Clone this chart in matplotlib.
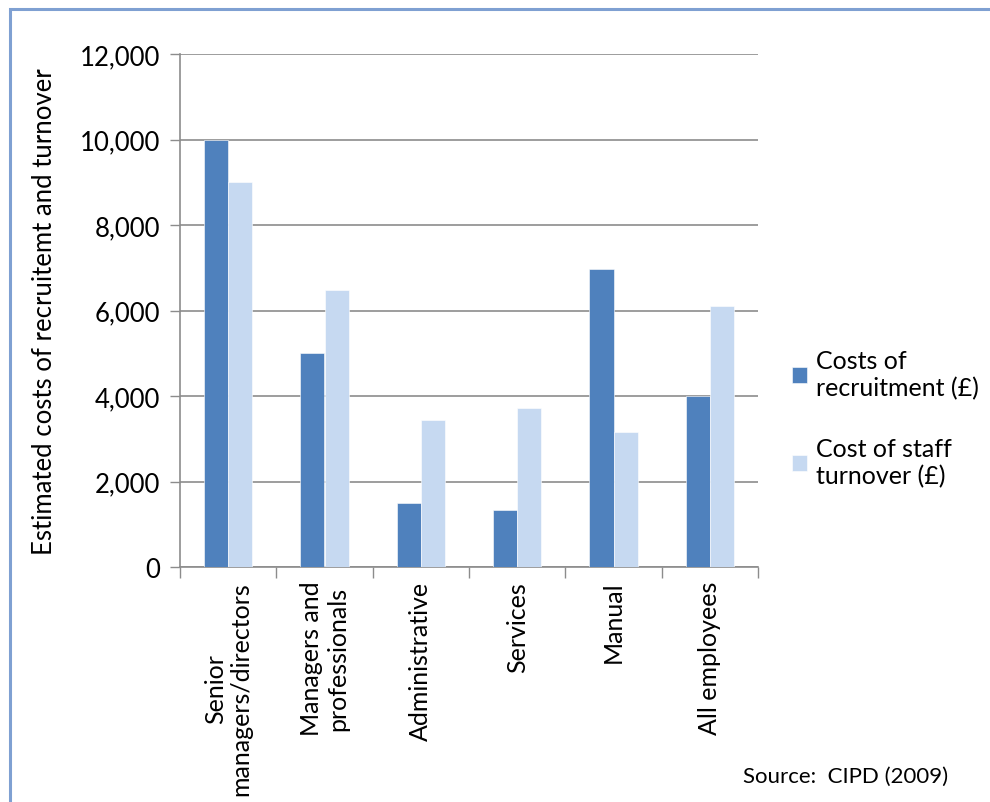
import matplotlib.pyplot as plt
import numpy as np
from matplotlib.patches import Rectangle
from matplotlib.ticker import FuncFormatter

plt.rcParams['font.family'] = ['Lato', 'DejaVu Sans']

# CIPD (2009) cost estimates by employee category
categories = ["Senior\nmanagers/directors", "Managers and\nprofessionals",
              "Administrative", "Services", "Manual", "All employees"]
recruitment = [10000, 5000, 1500, 1330, 6970, 4000]
turnover = [9000, 6470, 3430, 3710, 3150, 6100]

dark_blue = "#4F81BD"
light_blue = "#C6D9F1"
grid_grey = "#8C8C8C"

fig = plt.figure(figsize=(9.9, 8.03), dpi=100)
ax = fig.add_axes([180 / 990, 1 - 568 / 803, 578 / 990, 513 / 803])

x = np.arange(len(categories))
w = 0.25
ax.bar(x - w / 2, recruitment, w, color=dark_blue, edgecolor="white",
       linewidth=0.4, label="Costs of\nrecruitment (£)", zorder=3)
ax.bar(x + w / 2, turnover, w, color=light_blue, edgecolor="white",
       linewidth=0.4, label="Cost of staff\nturnover (£)", zorder=3)

ax.set_xlim(-0.5, len(categories) - 0.5)
ax.set_ylim(0, 12000)
ax.set_yticks(range(0, 12001, 2000))
ax.yaxis.set_major_formatter(FuncFormatter(lambda v, p: f"{int(v):,}"))
ax.grid(axis="y", color=grid_grey, linewidth=1.2, zorder=0)

# category boundaries carry the x ticks, labels sit at the centres
ax.set_xticks(np.arange(-0.5, len(categories)), minor=False)
ax.set_xticklabels([])
ax.tick_params(axis="x", length=8, color=grid_grey, width=1)
for i, c in enumerate(categories):
    ax.text(i, -0.027, c, transform=ax.get_xaxis_transform(), rotation=90,
            ha="center", va="top", multialignment="center", fontsize=18,
            linespacing=1.15, color="black")

ax.tick_params(axis="y", length=7, color=grid_grey, width=1, labelsize=18.5,
               pad=7)
for s in ["top", "right"]:
    ax.spines[s].set_visible(False)
for s in ["left", "bottom"]:
    ax.spines[s].set_color(grid_grey)
    ax.spines[s].set_linewidth(1.2)

ax.set_ylabel("Estimated costs of recruitemt and turnover", fontsize=18.5,
              labelpad=17)

leg = ax.legend(loc="center left", bbox_to_anchor=(1.02, 0.29), frameon=False,
                fontsize=18, handlelength=0.6, handleheight=0.6,
                handletextpad=0.35, labelspacing=1.5)

fig.text(948 / 990, 1 - 777 / 803, "Source:  CIPD (2009)", ha="right",
         va="center", fontsize=16)

# outer frame of the figure panel
fig.patches.append(Rectangle((10 / 990, -0.05), 1.2, 1 - 10 / 803 + 0.05,
                             transform=fig.transFigure, fill=False,
                             edgecolor="#7FA0D2", linewidth=2.2))

fig.savefig("out.png", dpi=100)
